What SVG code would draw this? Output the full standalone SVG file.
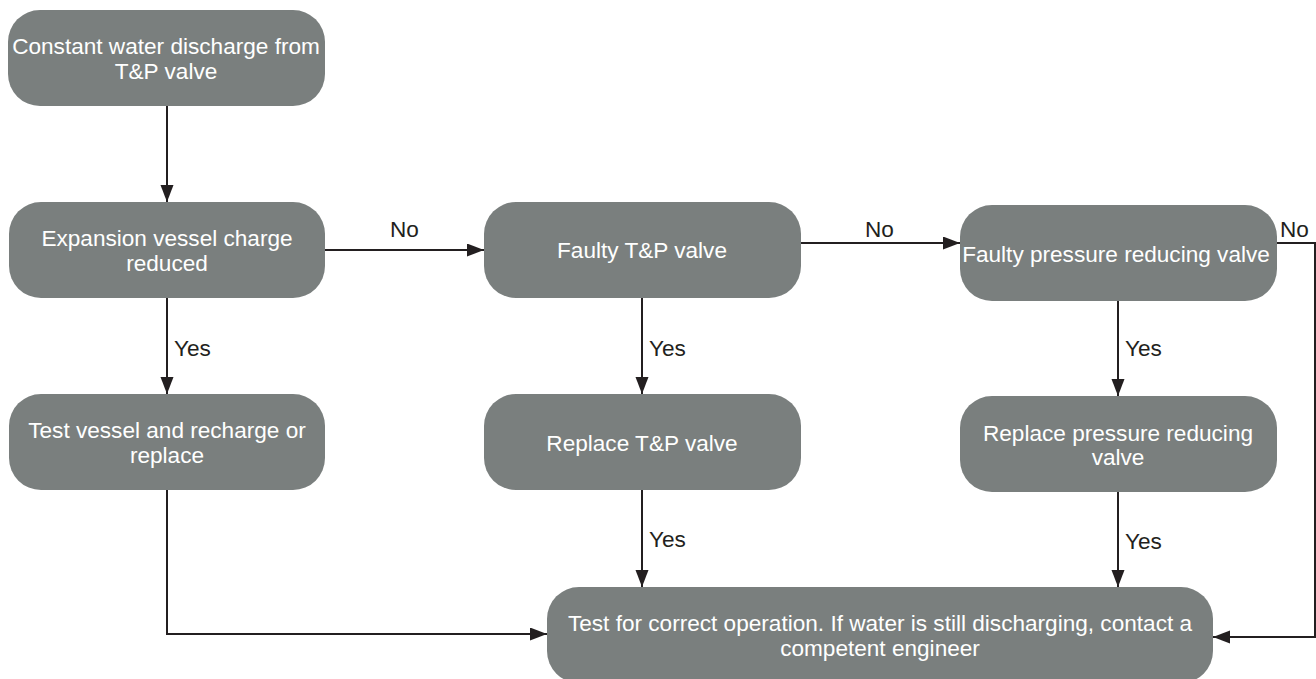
<svg xmlns="http://www.w3.org/2000/svg" width="1316" height="679" viewBox="0 0 1316 679">
<style>
.node rect{fill:#7a7f7e}
.node text{fill:#ffffff;font-family:"Liberation Sans",Arial,sans-serif;font-size:22.6px;text-anchor:middle}
.conn path{fill:none;stroke:#231f20;stroke-width:2}
.lbl{fill:#231f20;font-family:"Liberation Sans",Arial,sans-serif;font-size:22.6px}
</style>
<defs>
<marker id="arr" markerUnits="userSpaceOnUse" markerWidth="18" markerHeight="14" refX="17" refY="6.5" orient="auto">
<path d="M0,0 L17,6.5 L0,13 z" fill="#231f20"/>
</marker>
</defs>
<rect width="1316" height="679" fill="#ffffff"/>
<g class="conn">
<path d="M167,106 V202" marker-end="url(#arr)"/>
<path d="M325,250 H484" marker-end="url(#arr)"/>
<path d="M801,243 H960" marker-end="url(#arr)"/>
<path d="M1277,243 H1315 V637 H1213" marker-end="url(#arr)"/>
<path d="M167,298 V394" marker-end="url(#arr)"/>
<path d="M642,298 V394" marker-end="url(#arr)"/>
<path d="M1118,301 V396" marker-end="url(#arr)"/>
<path d="M642,490 V587" marker-end="url(#arr)"/>
<path d="M1118,492 V587" marker-end="url(#arr)"/>
<path d="M167,490 V634 H547" marker-end="url(#arr)"/>
<text class="lbl" x="390" y="237">No</text>
<text class="lbl" x="865" y="237">No</text>
<text class="lbl" x="1280" y="237">No</text>
<text class="lbl" x="174" y="356">Yes</text>
<text class="lbl" x="649" y="356">Yes</text>
<text class="lbl" x="1125" y="356">Yes</text>
<text class="lbl" x="649" y="547">Yes</text>
<text class="lbl" x="1125" y="549">Yes</text>
</g>
<g id="n1" class="node"><rect x="8" y="10" width="317" height="96" rx="32"/><text x="166" y="54">Constant water discharge from</text><text x="166" y="79">T&amp;P valve</text></g>
<g id="n2" class="node"><rect x="9" y="202" width="316" height="96" rx="32"/><text x="167" y="246">Expansion vessel charge</text><text x="167" y="271">reduced</text></g>
<g id="n3" class="node"><rect x="484" y="202" width="317" height="96" rx="32"/><text x="642" y="258">Faulty T&amp;P valve</text></g>
<g id="n4" class="node"><rect x="960" y="205" width="317" height="96" rx="32"/><text x="1116" y="262">Faulty pressure reducing valve</text></g>
<g id="n5" class="node"><rect x="9" y="394" width="316" height="96" rx="32"/><text x="167" y="438">Test vessel and recharge or</text><text x="167" y="463">replace</text></g>
<g id="n6" class="node"><rect x="484" y="394" width="317" height="96" rx="32"/><text x="642" y="451">Replace T&amp;P valve</text></g>
<g id="n7" class="node"><rect x="960" y="396" width="317" height="96" rx="32"/><text x="1118" y="441">Replace pressure reducing</text><text x="1118" y="465">valve</text></g>
<g id="n8" class="node"><rect x="547" y="587" width="666" height="96" rx="32"/><text x="880" y="631">Test for correct operation. If water is still discharging, contact a</text><text x="880" y="656">competent engineer</text></g>
</svg>
